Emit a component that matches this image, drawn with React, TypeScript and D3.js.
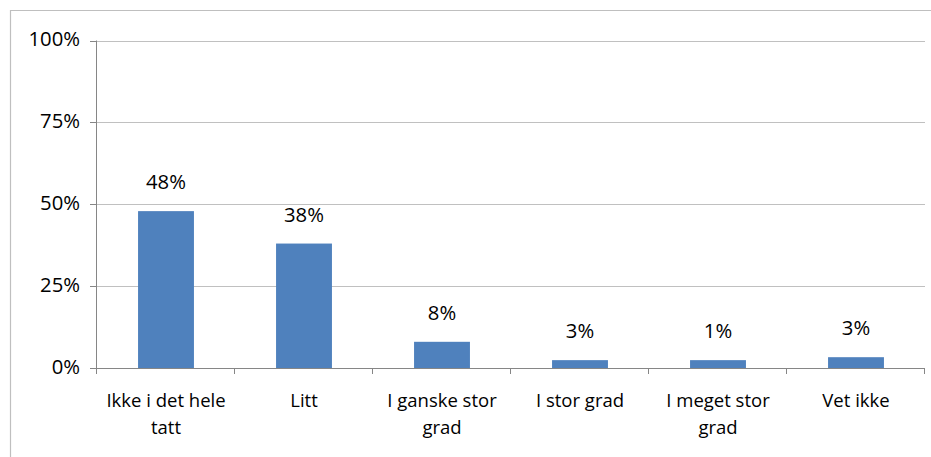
import React from "react";
import * as d3 from "d3";

const categories: string[][] = [
  ["Ikke i det hele", "tatt"],
  ["Litt"],
  ["I ganske stor", "grad"],
  ["I stor grad"],
  ["I meget stor", "grad"],
  ["Vet ikke"],
];
const values: number[] = [47.9, 38, 8, 2.4, 2.4, 3.3];
const valueLabels: string[] = ["48%", "38%", "8%", "3%", "1%", "3%"];
const yTicks: number[] = [0, 25, 50, 75, 100];

const W = 931;
const H = 457;
const FONT = "'Open Sans', sans-serif";

export default function App() {
  const left = 97;
  const right = 925;
  const top = 40.5;
  const bottom = 368;
  const x = d3
    .scaleBand<number>()
    .domain(d3.range(categories.length))
    .range([left, right])
    .paddingInner(0)
    .paddingOuter(0);
  const y = d3.scaleLinear().domain([0, 100]).range([bottom, top]);
  const bw = x.bandwidth() * 0.405;
  const fsNum = 20.3;
  const fsCat = 18.5;

  return (
    <div style={{ position: "absolute", left: 0, top: 0 }}>
      <svg width={W} height={H} style={{ display: "block" }}>
        <rect x={0} y={0} width={W} height={H} fill="#fff" />
        <line x1={10} y1={10.5} x2={W} y2={10.5} stroke="#bfbfbf" strokeWidth={1.2} />
        <line x1={10.5} y1={10} x2={10.5} y2={H} stroke="#bfbfbf" strokeWidth={1.2} />
        {yTicks.filter((t) => t > 0).map((t) => (
          <line key={"g" + t} x1={left} x2={right} y1={Math.round(y(t)) + 0.5} y2={Math.round(y(t)) + 0.5} stroke="#c0c0c0" strokeWidth={1} />
        ))}
        {values.map((v, i) => (
          <rect
            key={"b" + i}
            x={(x(i) as number) + x.bandwidth() / 2 - bw / 2}
            y={y(v)}
            width={bw}
            height={bottom - y(v)}
            fill="#4f81bd"
          />
        ))}
        <line x1={left} x2={right} y1={bottom + 0.5} y2={bottom + 0.5} stroke="#868686" strokeWidth={1} />
        <line x1={left - 0.5} x2={left - 0.5} y1={top} y2={bottom + 6} stroke="#868686" strokeWidth={1} />
        {yTicks.map((t) => (
          <g key={"t" + t}>
            <line x1={left - 7} x2={left} y1={Math.round(y(t)) + 0.5} y2={Math.round(y(t)) + 0.5} stroke="#868686" strokeWidth={1} />
            <text x={80} y={y(t)} dy="0.28em" textAnchor="end" fontFamily={FONT} fontSize={fsNum} fill="#000">
              {t + "%"}
            </text>
          </g>
        ))}
        {d3.range(categories.length + 1).map((i) => {
          const xx = i === categories.length ? right : (x(i) as number);
          return <line key={"xt" + i} x1={xx - 0.5} x2={xx - 0.5} y1={bottom} y2={bottom + 6} stroke="#868686" strokeWidth={1} />;
        })}
        {categories.map((lines, i) => (
          <text key={"c" + i} textAnchor="middle" fontFamily={FONT} fontSize={fsCat} fill="#000">
            {lines.map((l, j) => (
              <tspan key={j} x={(x(i) as number) + x.bandwidth() / 2} y={406.5 + j * 27}>
                {l}
              </tspan>
            ))}
          </text>
        ))}
        {values.map((v, i) => (
          <text
            key={"v" + i}
            x={(x(i) as number) + x.bandwidth() / 2}
            y={y(v) - 22}
            textAnchor="middle"
            fontFamily={FONT}
            fontSize={fsNum}
            fill="#000"
          >
            {valueLabels[i]}
          </text>
        ))}
      </svg>
    </div>
  );
}
